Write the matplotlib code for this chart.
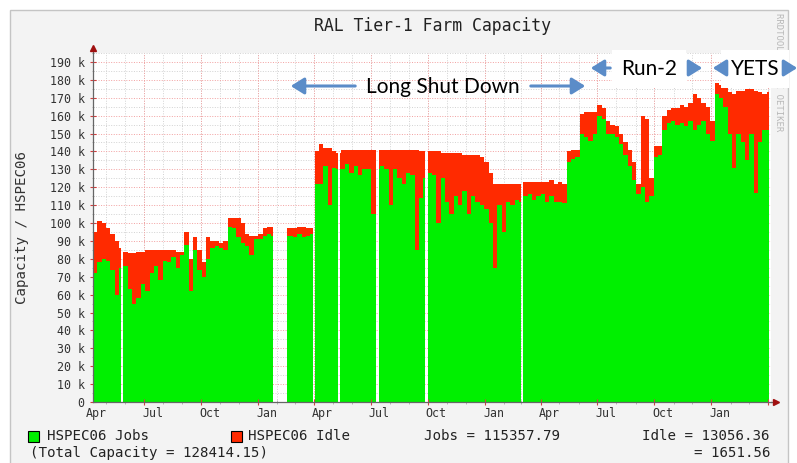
import numpy as np
import pandas as pd
import matplotlib
matplotlib.use('Agg')
import matplotlib.pyplot as plt
import matplotlib.dates as mdates
from matplotlib.ticker import MultipleLocator, FuncFormatter
from matplotlib.patches import Rectangle, FancyArrowPatch

plt.rcParams['font.family'] = 'DejaVu Sans Mono'

# weekly capacity (k HSPEC06), first week starts 2013-04-10
start = pd.Timestamp('2013-04-10')
end_day = 1089

total = [
    95, 101, 100, 97, 94, 90, 86, 84, 83, 83,
    84, 84, 85, 85, 85, 85, 85, 85, 85, 84,
    84, 95, 80, 92, 85, 78, 92, 90, 90, 89,
    90, 103, 103, 103, 100, 94, 93, 93, 94, 97,
    98, 98, 97, 97, 97, 97, 97, 98, 98, 97,
    97, 140, 144, 142, 142, 140, 139, 141, 141, 141,
    141, 141, 141, 141, 141, 141, 141, 141, 141, 141,
    141, 141, 141, 141, 141, 140, 140, 140, 140, 140,
    139, 139, 139, 139, 139, 138, 138, 138, 138, 137,
    134, 128, 122, 122, 122, 122, 122, 122, 122, 123,
    123, 123, 123, 123, 123, 124, 122, 123, 122, 140,
    141, 141, 161, 162, 162, 162, 166, 164, 157, 155,
    154, 150, 145, 141, 134, 122, 160, 158, 125, 143,
    143, 160, 163, 164, 164, 166, 165, 167, 172, 170,
    167, 165, 157, 178, 177, 176, 173, 172, 174, 174,
    175, 175, 174, 173, 172, 173]

jobs = [
    72, 78, 80, 79, 74, 60, 75, 76, 63, 55,
    58, 66, 62, 72, 76, 68, 79, 78, 81, 75,
    82, 88, 62, 85, 74, 70, 80, 86, 87, 86,
    85, 98, 97, 92, 89, 87, 82, 91, 91, 93,
    94, 93, 93, 93, 93, 93, 92, 94, 92, 93,
    94, 122, 122, 132, 110, 131, 130, 130, 133, 128,
    132, 127, 130, 130, 105, 130, 132, 130, 110, 130,
    125, 122, 128, 127, 85, 114, 125, 128, 127, 100,
    125, 112, 105, 115, 110, 118, 105, 115, 112, 110,
    108, 100, 75, 110, 95, 112, 110, 113, 112, 115,
    116, 113, 115, 116, 112, 115, 112, 112, 111, 134,
    136, 137, 150, 148, 146, 150, 160, 158, 150, 150,
    148, 144, 138, 132, 124, 116, 120, 112, 115, 137,
    138, 152, 156, 157, 155, 156, 154, 157, 152, 155,
    157, 150, 146, 172, 170, 165, 150, 131, 150, 145,
    135, 150, 117, 145, 152, 152]

# periods with no data (day offset from start, length in days)
gap_start = [45, 290, 355, 394.5, 455.7, 534.6, 690]
gap_len = [3, 22.5, 2.5, 4, 5, 5, 2.4]

GREEN = '#00f000'
RED = '#ff2a00'
BLUE = '#5b8cc8'

# weekly steps, cut where there is no data
gaps = [(s, s + l) for s, l in zip(gap_start, gap_len)]
week_edges = np.minimum(np.arange(len(total) + 1) * 7.0, end_day)
xs, ts, js = [], [], []
for i in range(len(total)):
    pieces = [(week_edges[i], week_edges[i + 1])]
    for g0, g1 in gaps:
        cut = []
        for a, b in pieces:
            if g1 <= a or g0 >= b:
                cut.append((a, b))
                continue
            if a < g0:
                cut.append((a, g0))
            if g1 < b:
                cut.append((g1, b))
        pieces = cut
    for a, b in pieces:
        if xs and xs[-1] != a:
            xs.append(a); ts.append(np.nan); js.append(np.nan)
        xs += [a, b]
        ts += [total[i] * 1000.0] * 2
        js += [jobs[i] * 1000.0] * 2
x_dates = start + pd.to_timedelta(np.array(xs), unit='D')
ts = np.array(ts)
js = np.array(js)

W, H = 797, 463
fig = plt.figure(figsize=(W / 100, H / 100), dpi=100)
fig.patch.set_facecolor('white')
fig.patches.append(Rectangle((10 / W, -0.1), 778 / W, 1.1 - 10 / H, transform=fig.transFigure,
                             facecolor='#f3f3f3', edgecolor='#c4c4c4', lw=1, zorder=-5))

ax = fig.add_axes([93 / W, 1 - 402 / H, 678 / W, 349 / H])
ax.set_zorder(1)
ax.set_facecolor('white')
ax.set_axisbelow(True)

ax.fill_between(x_dates, 0, js, color=GREEN, lw=0, zorder=2)
ax.fill_between(x_dates, js, ts, color=RED, lw=0, zorder=2)

ax.set_xlim(start, start + pd.Timedelta(days=1092))
ax.set_ylim(0, 195000)

GRID_MAJ = '#f2a0a0'
GRID_MIN = '#d2d2d2'
DOTS = (0, (1, 1.6))

# y axis
ax.yaxis.set_major_locator(MultipleLocator(10000))
ax.yaxis.set_minor_locator(MultipleLocator(5000))
ax.yaxis.set_major_formatter(FuncFormatter(lambda v, p: '0' if v == 0 else f'{v / 1000:.0f} k'))
ax.grid(which='minor', axis='y', color=GRID_MIN, ls=DOTS, lw=0.7)
ax.grid(which='major', axis='y', color=GRID_MAJ, ls=DOTS, lw=0.7)

# x axis: labels mid-month, grid at month starts, red at quarter starts
ax.xaxis.set_major_locator(mdates.MonthLocator(bymonth=(1, 4, 7, 10), bymonthday=15))
ax.xaxis.set_major_formatter(mdates.DateFormatter('%b'))
ax.xaxis.set_minor_locator(mdates.MonthLocator())
ax.grid(which='minor', axis='x', color=GRID_MIN, ls=DOTS, lw=0.7)
quarters = pd.date_range('2013-07-01', '2016-04-01', freq='QS-JAN')
ax.vlines(quarters, 0, 1, transform=ax.get_xaxis_transform(), colors=GRID_MAJ,
          linestyles=[DOTS], lw=0.7, zorder=0.6)
ax.vlines(quarters, -0.008, 0.008, transform=ax.get_xaxis_transform(), colors='#d04040',
          lw=0.8, zorder=3, clip_on=False)

ax.tick_params(axis='x', which='major', length=0, pad=3.5, labelsize=8.4, labelcolor='#333333')
ax.tick_params(axis='x', which='minor', length=3, direction='inout', color='#aaaaaa')
ax.tick_params(axis='y', which='major', length=4, direction='inout', color='#d04040',
               labelsize=8.4, labelcolor='#333333', pad=4)
ax.tick_params(axis='y', which='minor', length=2, direction='inout', color='#aaaaaa')

for side in ('top', 'right'):
    ax.spines[side].set_visible(False)
for side in ('left', 'bottom'):
    ax.spines[side].set_color('#666666')
    ax.spines[side].set_linewidth(0.9)
    ax.spines[side].set_zorder(4)
ax.plot([0, 0], [1, 1.012], color='#666666', lw=0.9, transform=ax.transAxes, clip_on=False)
ax.plot([0], [1.014], marker='^', ms=4.5, color='#a01010', transform=ax.transAxes, clip_on=False)
ax.plot([1, 1.004], [0, 0], color='#666666', lw=0.9, transform=ax.transAxes, clip_on=False)
ax.plot([1.007], [0], marker='>', ms=4.5, color='#a01010', transform=ax.transAxes, clip_on=False)

fig.text(22 / W, 1 - 227 / H, 'Capacity / HSPEC06', rotation=90, ha='center', va='center',
         fontsize=10.2, color='#333333')
fig.text(432 / W, 1 - 26 / H, 'RAL Tier-1 Farm Capacity', ha='center', va='center',
         fontsize=11.9, color='#222222')
fig.text(779 / W, 1 - 13 / H, 'RRDTOOL / TOBI OETIKER', rotation=270, ha='center', va='top',
         fontsize=6.5, color='#b8b8b8')

# legend
fig.patches.append(Rectangle((28 / W, 1 - 442 / H), 11 / W, 11 / H, transform=fig.transFigure,
                             facecolor=GREEN, edgecolor='black', lw=0.8))
fig.patches.append(Rectangle((231 / W, 1 - 442 / H), 11 / W, 11 / H, transform=fig.transFigure,
                             facecolor=RED, edgecolor='black', lw=0.8))
leg = dict(fontsize=10.2, va='center', color='#222222')
fig.text(47 / W, 1 - 436 / H, 'HSPEC06 Jobs', ha='left', **leg)
fig.text(248 / W, 1 - 436 / H, 'HSPEC06 Idle', ha='left', **leg)
fig.text(424 / W, 1 - 436 / H, 'Jobs = 115357.79', ha='left', **leg)
fig.text(770 / W, 1 - 436 / H, 'Idle = 13056.36', ha='right', **leg)
fig.text(30 / W, 1 - 453 / H, '(Total Capacity = 128414.15)', ha='left', **leg)
fig.text(770 / W, 1 - 453 / H, '= 1651.56', ha='right', **leg)

# period annotations
ann = dict(fontsize=15, family='Lato', color='black', ha='center', va='baseline', zorder=10)
fig.text(443 / W, 1 - 93 / H, 'Long Shut Down', **ann)
fig.text(649 / W, 1 - 75 / H, 'Run-2',
         bbox=dict(boxstyle='square,pad=0.45', fc='white', ec='none'), **ann)
fig.text(755 / W, 1 - 75 / H, 'YETS',
         bbox=dict(boxstyle='square,pad=0.45', fc='white', ec='none'), **ann)

arrows = [((358, 86), (288, 86)), ((528, 86), (588, 86)),
          ((613, 68), (588, 68)), ((687, 68), (705, 68)),
          ((725, 68), (710, 68)), ((786, 68), (800, 68))]
for (x0, y0), (x1, y1) in arrows:
    fig.add_artist(FancyArrowPatch(
        (x0 / W, 1 - y0 / H), (x1 / W, 1 - y1 / H), transform=fig.transFigure,
        arrowstyle='-|>,head_length=0.8,head_width=0.5', mutation_scale=10,
        color=BLUE, lw=2.2, zorder=11))

fig.savefig('out.png', dpi=100)
